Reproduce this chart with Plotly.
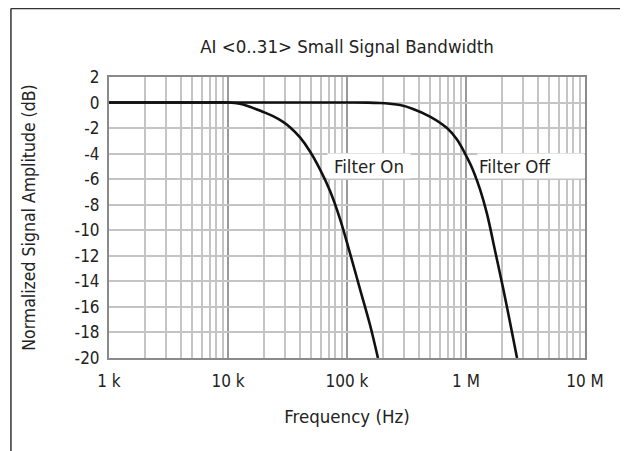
import plotly.graph_objects as go

# Data
freq_on = [1000, 2000, 5000, 10000, 12610, 15270, 19310, 23900, 29000, 33200, 40300, 48900,
           59300, 71900, 87300, 106000, 128600, 156000, 182000]
db_on = [0.0, 0.0, 0.0, 0.0, -0.1, -0.33, -0.7, -1.06, -1.51, -1.93, -2.73, -3.83,
         -5.23, -6.9, -9.1, -11.8, -14.6, -17.4, -20.0]

freq_off = [1000, 10000, 100000, 150000, 189000, 229700, 279000, 359000, 498000, 692000, 840000,
            1020000, 1146000, 1312000, 1500000, 1754000, 2047000, 2343000, 2685000]
db_off = [0.0, 0.0, 0.0, -0.01, -0.04, -0.1, -0.2, -0.5, -1.1, -2.0, -2.9,
          -4.3, -5.3, -6.8, -8.7, -11.6, -14.5, -17.2, -20.0]

x_tickvals = [1e3, 1e4, 1e5, 1e6, 1e7]
x_ticktext = ["1 k", "10 k", "100 k", "1 M", "10 M"]
y_tickvals = list(range(-20, 3, 2))
y_ticktext = [str(v) for v in y_tickvals]

FONT = "DejaVu Sans Condensed, Liberation Sans Narrow, DejaVu Sans, sans-serif"
TXT = "#222"

fig = go.Figure()
for fx, fy, nm in [(freq_on, db_on, "Filter On"), (freq_off, db_off, "Filter Off")]:
    fig.add_trace(go.Scatter(x=fx, y=fy, mode="lines", name=nm,
                             line=dict(color="#111", width=2.6, shape="spline", smoothing=1.0)))

# page has an 8px body margin; figure sized/offset to compensate
fig.update_layout(
    width=620, height=443,
    margin=dict(l=101, r=43, t=69, b=93),
    paper_bgcolor="white", plot_bgcolor="white",
    showlegend=False,
    font=dict(family=FONT, size=17, color=TXT),
    title=dict(text="AI <0..31> Small Signal Bandwidth", x=0.5, xref="paper", xanchor="center",
               y=0.928, yref="container", font=dict(size=18.5, family=FONT, color=TXT)),
)
fig.update_xaxes(
    type="log", range=[3, 7],
    tickvals=x_tickvals, ticktext=x_ticktext,
    showgrid=True, gridcolor="#9a9a9a", gridwidth=1.5,
    minor=dict(showgrid=True, gridcolor="#c4c4c4", gridwidth=1.5, dtick="D1"),
    showline=True, linecolor="#8a8a8a", linewidth=2, mirror=True,
    ticks="", ticklabelstandoff=7,
    title=dict(text="Frequency (Hz)", standoff=20, font=dict(size=18.5)),
    zeroline=False,
)
fig.update_yaxes(
    range=[-20, 2], tickvals=y_tickvals, ticktext=y_ticktext,
    showgrid=True, gridcolor="#c4c4c4", gridwidth=1.5,
    showline=True, linecolor="#8a8a8a", linewidth=2, mirror=True,
    ticks="", ticklabelstandoff=4,
    title=dict(text="Normalized Signal Amplitude (dB)", standoff=34, font=dict(size=17.5)),
    zeroline=False,
)

fig.add_annotation(x=5.185, y=-5, xref="x", yref="y", text="Filter On", showarrow=False,
                   bgcolor="white", width=80, height=22, font=dict(size=18.5))
fig.add_annotation(x=6.546, y=-5, xref="x", yref="y", text="Filter Off", showarrow=False,
                   bgcolor="white", width=104, height=22, align="left", font=dict(size=18.5))

# outer frame (top and left edges)
fig.add_shape(type="line", xref="paper", yref="paper", x0=-0.206, x1=1.1, y0=1.2438, y1=1.2438,
              line=dict(color="#333", width=1.5))
fig.add_shape(type="line", xref="paper", yref="paper", x0=-0.206, x1=-0.206, y0=1.2438, y1=-0.35,
              line=dict(color="#333", width=1.5))

fig.write_html("out.html")
